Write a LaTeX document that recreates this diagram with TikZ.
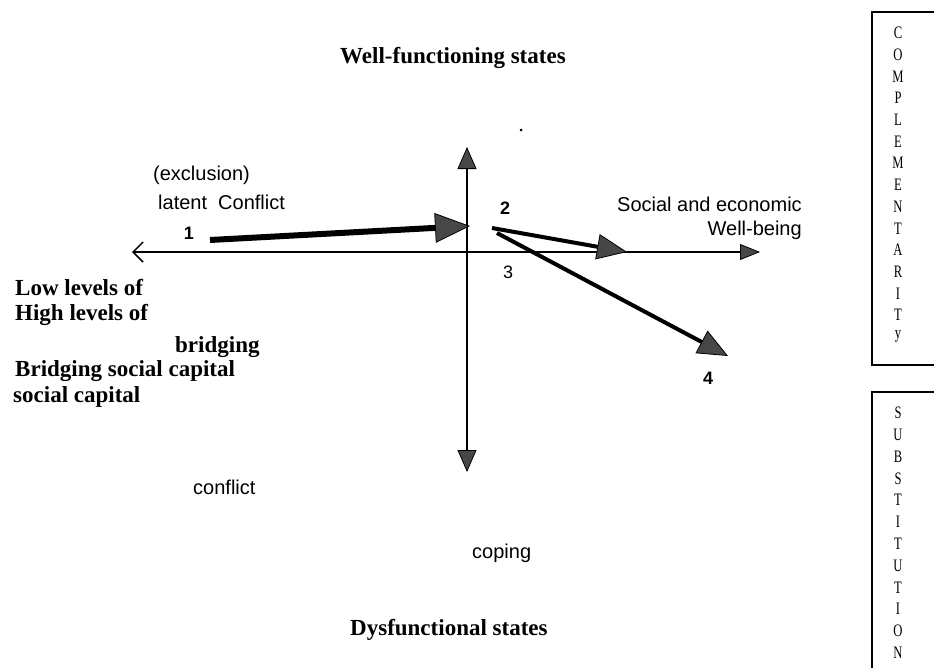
\documentclass[tikz,border=0pt]{standalone}
\usepackage{fontspec}
\setmainfont{Liberation Serif}
\newfontfamily\sansfont{Liberation Sans}
\usetikzlibrary{arrows.meta}
\tikzset{
  heading/.style={font=\fontsize{23}{25}\selectfont\bfseries, inner sep=0pt, anchor=west},
  note/.style={font=\sansfont\fontsize{20}{22}\selectfont, inner sep=0pt, anchor=west},
  num/.style={font=\sansfont\fontsize{18}{20}\selectfont\bfseries, inner sep=0pt},
  letter/.style={font=\fontsize{14}{16}\selectfont, inner sep=0pt},
  axis/.style={line width=1.5pt},
  filltip/.style={-{Triangle[length=#1,width=0.85*#1,fill=black!72,line width=0.8pt]}},
  move/.style={line width=4pt, filltip=30pt},
}
\begin{document}
\begin{tikzpicture}[x=1pt,y=-1pt]
\def\bx{872};
\def\lx{898};
\useasboundingbox (0,0) rectangle (934,667);
\clip (0,0) rectangle (934,667);
%axes
\coordinate (west) at (132,252);
\coordinate (east) at (760,252);
\coordinate (north) at (467,147);
\coordinate (south) at (467,472);
\draw[axis,{Straight Barb[length=10pt,width=20pt]}-{Triangle[length=20pt,width=16pt,fill=black!72,line width=0.8pt]}] (west) -- (east);
\draw[axis,{Triangle[length=22pt,width=19pt,fill=black!72,line width=0.8pt]}-{Triangle[length=22pt,width=19pt,fill=black!72,line width=0.8pt]}] (south) -- (north);
%moves
\coordinate (s1) at (210,240);
\coordinate (e1) at (470,226);
\coordinate (s2) at (492,228);
\coordinate (e2) at (627,252);
\coordinate (s3) at (497,233);
\coordinate (e3) at (728,356);
\draw[line width=6pt,filltip=35pt] (s1) -- (e1);
\draw[move] (s2) -- (e2);
\draw[move] (s3) -- (e3);
\fill (521,130) circle (1.5);
%numbers
\node[num] (n1) at (189,233) {1};
\node[num] (n2) at (505,208) {2};
\node[num,font=\sansfont\fontsize{18}{20}\selectfont] (n3) at (508,272) {3};
\node[num] (n4) at (708,378) {4};
%labels
\node[heading] (top) at (340,58) {Well-functioning states};
\node[heading] (bottom) at (350,630) {Dysfunctional states};
\node[note] (excl) at (153,175) {(exclusion)};
\node[note] (latent) at (158,202) {latent\ \ Conflict};
\node[note] (social) at (617,204) {Social and economic};
\node[note,anchor=east] (well) at (social.east |- 0,230) {Well-being};
\node[heading] (low) at (15,288) {Low levels of};
\node[heading] (high) at (15,315) {High levels of};
\node[heading] (bridg) at (175,347) {bridging};
\node[heading] (bsc) at (15,371) {Bridging social capital};
\node[heading] (sc) at (13,397) {social capital};
\node[note] (confl) at (193,487) {conflict};
\node[note] (cop) at (472,553) {coping};
%boxes
\draw[line width=2.5pt] (960,12) -- (\bx,12) -- (\bx,365) -- (960,365);
\draw[line width=2.5pt] (960,392) -- (\bx,392) -- (\bx,690);
\foreach\l [count=\i from 0] in {C,O,M,P,L,E,M,E,N,T,A,R,I,T,y} {
  \node[letter] (c\i) at (\lx,33+\i*21.7) {\scalebox{0.9}[1.25]{\l}};
}
\foreach\l [count=\i from 0] in {S,U,B,S,T,I,T,U,T,I,O,N} {
  \node[letter] (s\i) at (\lx,413+\i*21.8) {\scalebox{0.9}[1.25]{\l}};
}
\end{tikzpicture}
\end{document}
